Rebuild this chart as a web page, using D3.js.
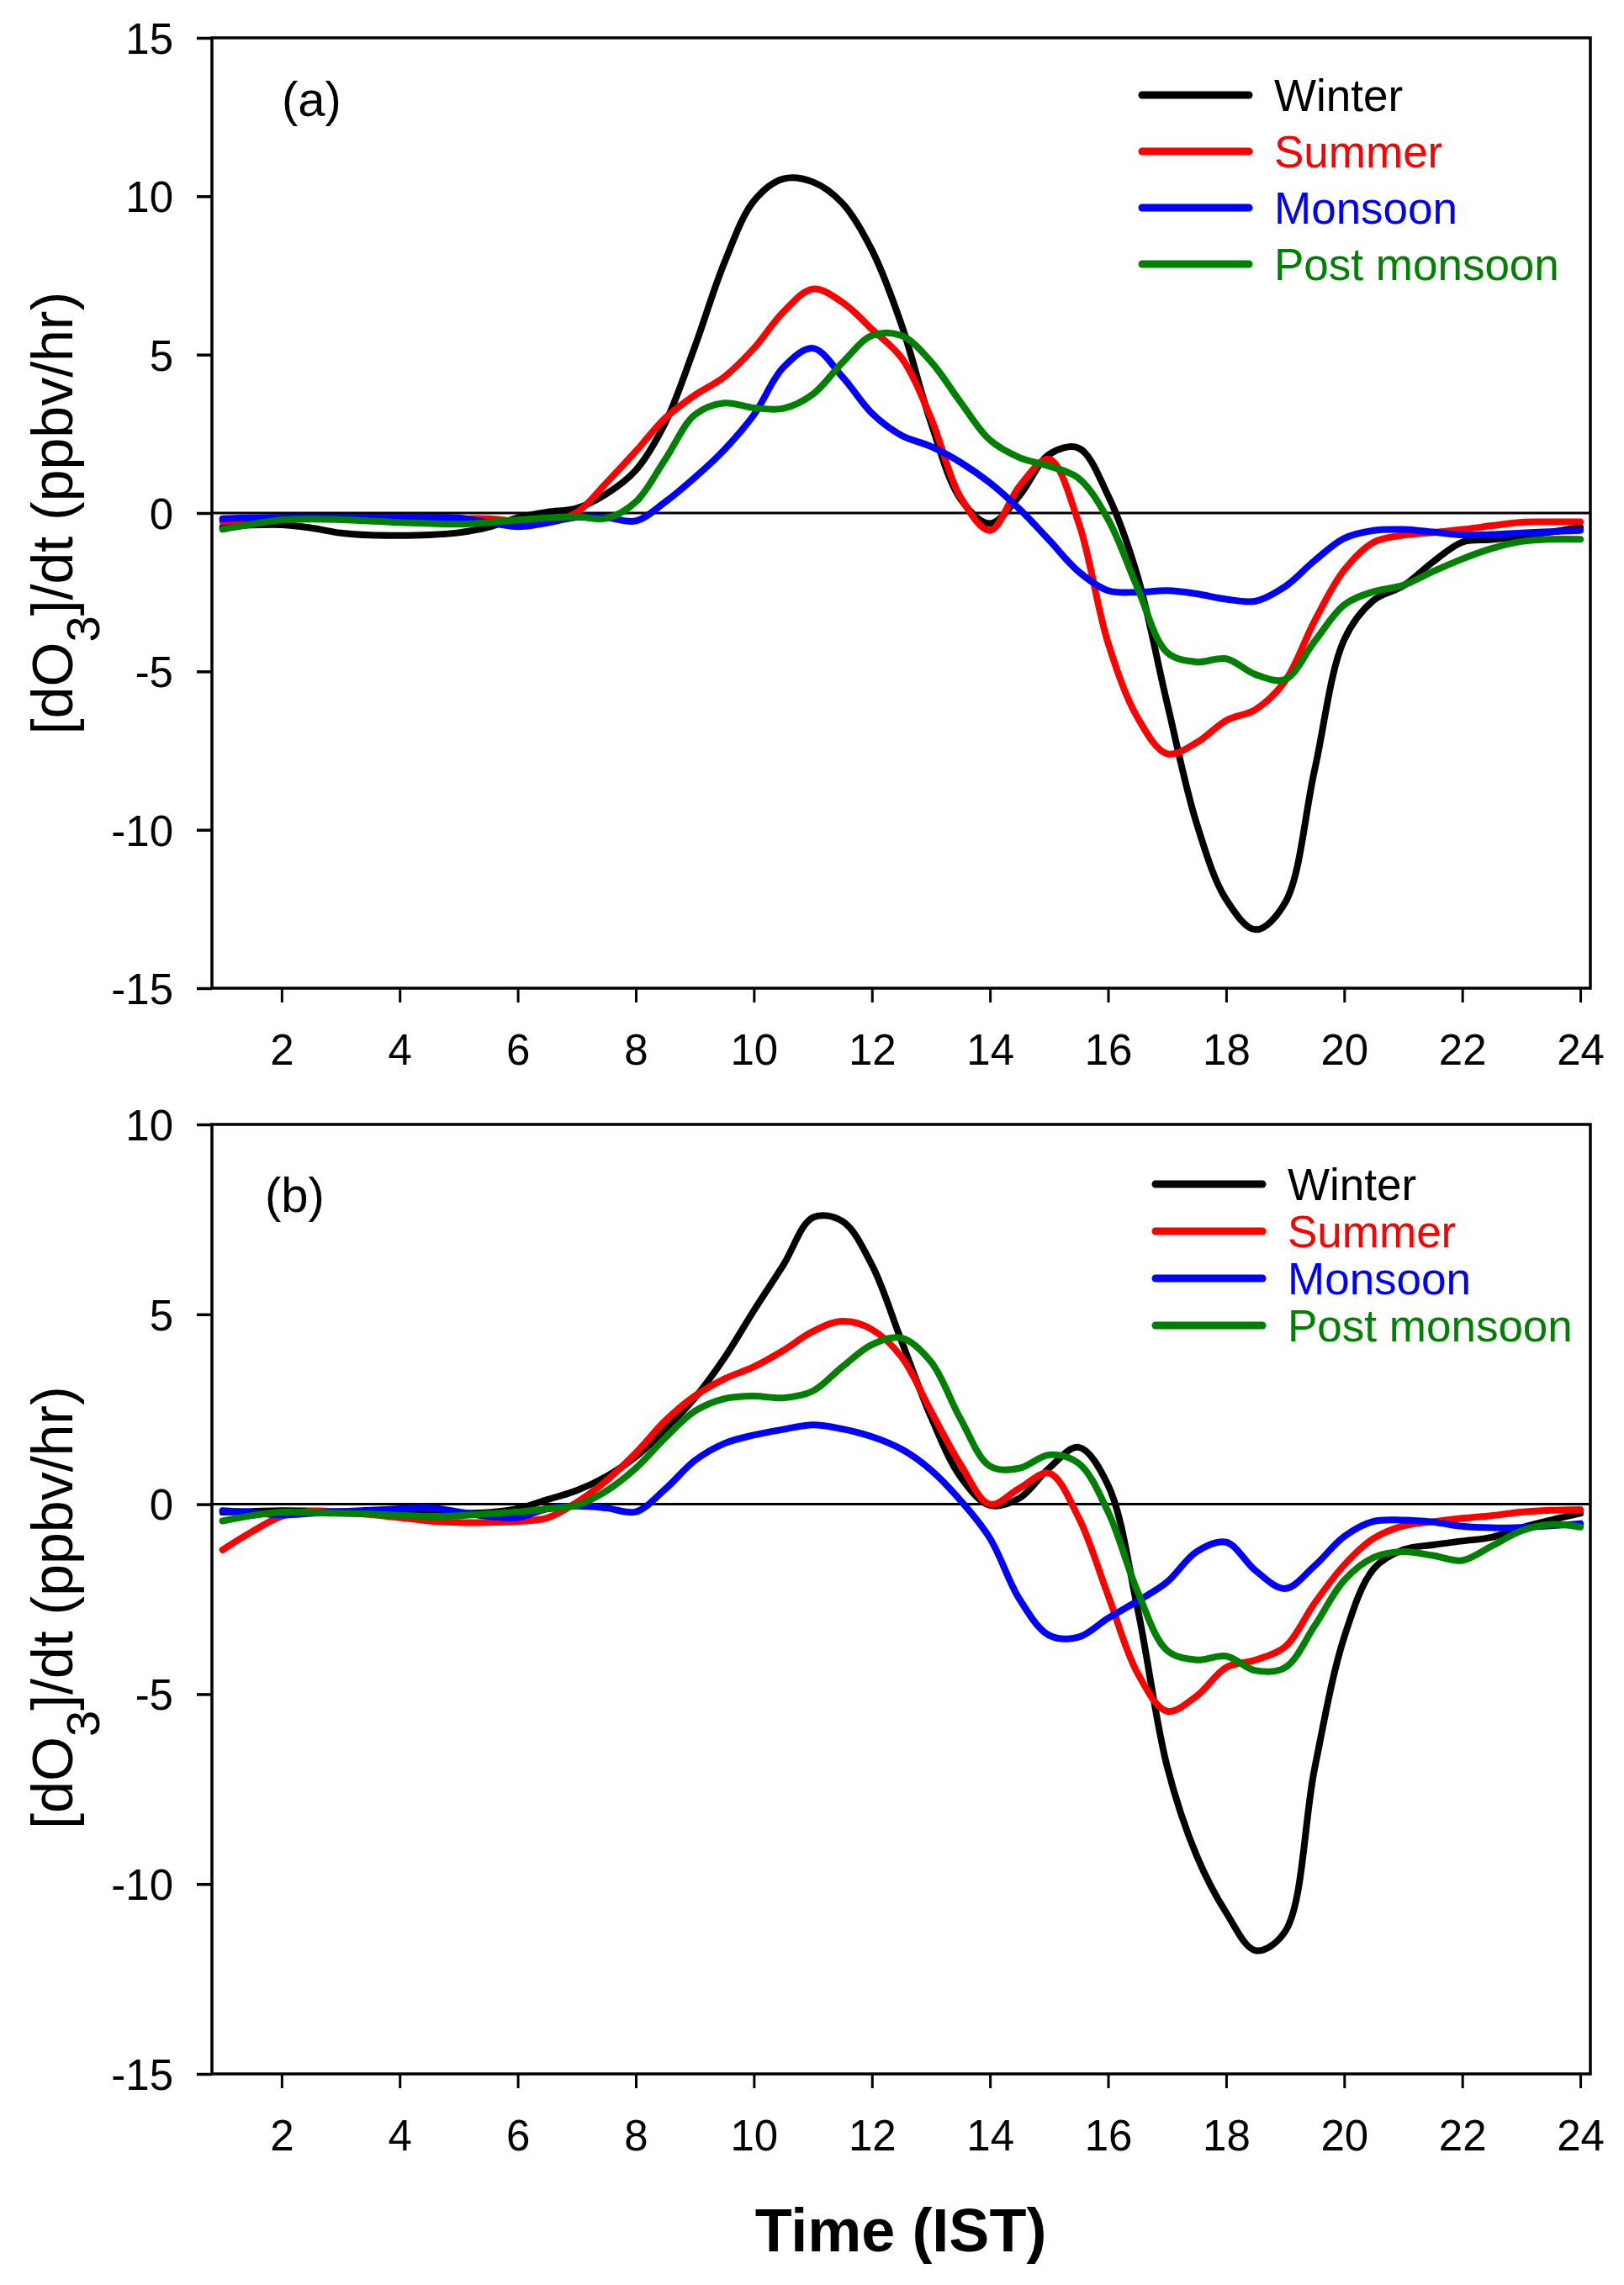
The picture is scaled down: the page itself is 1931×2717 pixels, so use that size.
<!DOCTYPE html>
<html>
<head>
<meta charset="utf-8">
<script src="https://cdn.jsdelivr.net/npm/d3@7"></script>
<style>
  body { margin: 0; background: #fff; }
  svg { display: block; font-family: "Liberation Sans", Arial, sans-serif; }
</style>
</head>
<body>
<div id="chart"></div>
<script>
/**********************/
/******* data         */
/**********************/

const hours = [1, 1.5, 2, 2.5, 3, 3.5, 4, 4.5, 5, 5.5, 6, 6.5, 7, 7.5, 8, 8.5, 9, 9.5, 10, 10.5,
    11, 11.5, 12, 12.5, 13, 13.5, 14, 14.5, 15, 15.5, 16, 16.5, 17, 17.5, 18, 18.5, 19, 19.5, 20, 20.5,
    21, 21.5, 22, 22.5, 23, 23.5, 24];

const seasons = ["Winter", "Summer", "Monsoon", "Post monsoon"];
const seasonColors = ["#000000", "#ff0000", "#0000ff", "#008000"];

const xTicks = [2, 4, 6, 8, 10, 12, 14, 16, 18, 20, 22, 24];
const yTicksA = [-15, -10, -5, 0, 5, 10, 15];
const yTicksB = [-15, -10, -5, 0, 5, 10];

// panel (a)
const winterA = [-0.45, -0.38, -0.37, -0.47, -0.63, -0.7, -0.71, -0.69, -0.62, -0.45,
    -0.15, 0.03, 0.15, 0.6, 1.35, 2.85, 5.25, 7.9, 9.85, 10.55,
    10.45, 9.78, 8.3, 5.95, 2.85, 0.45, -0.33, 0.55, 1.85, 2.05,
    0.55, -2.0, -6.0, -9.8, -12.2, -13.15, -12.3, -8.1, -4.0, -2.75,
    -2.3, -1.55, -0.92, -0.84, -0.72, -0.6, -0.45];
const summerA = [-0.27, -0.2, -0.18, -0.17, -0.17, -0.18, -0.18, -0.18, -0.18, -0.18,
    -0.27, -0.3, 0.02, 0.95, 1.95, 3.0, 3.72, 4.3, 5.2, 6.35,
    7.07, 6.65, 5.8, 4.9, 3.0, 0.5, -0.55, 0.85, 1.7, -0.3,
    -4.1, -6.46, -7.6, -7.25, -6.55, -6.2, -5.3, -3.4, -1.8, -0.92,
    -0.7, -0.62, -0.52, -0.4, -0.29, -0.28, -0.28];
const monsoonA = [-0.18, -0.15, -0.13, -0.13, -0.13, -0.13, -0.13, -0.13, -0.15, -0.3,
    -0.43, -0.31, -0.13, -0.14, -0.25, 0.35, 1.12, 2.0, 3.1, 4.6,
    5.2, 4.3, 3.15, 2.45, 2.1, 1.6, 0.95, 0.12, -0.85, -1.85,
    -2.45, -2.5, -2.45, -2.55, -2.72, -2.78, -2.32, -1.5, -0.8, -0.55,
    -0.52, -0.6, -0.69, -0.68, -0.63, -0.59, -0.55];
const postA = [-0.51, -0.35, -0.22, -0.19, -0.21, -0.25, -0.3, -0.33, -0.35, -0.3,
    -0.22, -0.15, -0.12, -0.17, 0.35, 1.7, 3.1, 3.47, 3.32, 3.3,
    3.75, 4.75, 5.6, 5.6, 4.78, 3.5, 2.3, 1.75, 1.48, 1.1,
    -0.2, -2.37, -4.4, -4.7, -4.6, -5.1, -5.25, -4.05, -2.9, -2.48,
    -2.28, -1.85, -1.45, -1.12, -0.9, -0.83, -0.83];

// panel (b)
const winterB = [-0.21, -0.19, -0.17, -0.18, -0.2, -0.22, -0.23, -0.24, -0.24, -0.22,
    -0.12, 0.12, 0.36, 0.73, 1.25, 1.97, 2.8, 3.85, 5.1, 6.3,
    7.55, 7.45, 6.3, 4.3, 2.3, 0.72, -0.03, 0.16, 0.95, 1.5,
    0.5, -2.75, -6.9, -9.25, -10.75, -11.75, -11.25, -6.95, -3.5, -1.7,
    -1.2, -1.07, -0.97, -0.87, -0.62, -0.42, -0.24];
const summerB = [-1.2, -0.72, -0.32, -0.18, -0.2, -0.27, -0.35, -0.44, -0.48, -0.48,
    -0.45, -0.36, 0.05, 0.62, 1.35, 2.2, 2.85, 3.3, 3.62, 4.05,
    4.55, 4.82, 4.6, 3.88, 2.45, 1.05, 0.0, 0.42, 0.82, -0.35,
    -2.4, -4.45, -5.45, -5.05, -4.3, -4.1, -3.75, -2.6, -1.6, -0.9,
    -0.57, -0.46, -0.37, -0.3, -0.21, -0.16, -0.14];
const monsoonB = [-0.17, -0.22, -0.28, -0.24, -0.19, -0.16, -0.12, -0.09, -0.2, -0.32,
    -0.35, -0.12, -0.05, -0.1, -0.2, 0.4, 1.15, 1.6, 1.82, 1.97,
    2.09, 1.98, 1.78, 1.45, 0.9, 0.1, -0.9, -2.5, -3.45, -3.5,
    -3.0, -2.55, -2.05, -1.25, -1.0, -1.75, -2.22, -1.62, -0.85, -0.45,
    -0.42, -0.47, -0.58, -0.62, -0.61, -0.57, -0.51];
const postB = [-0.44, -0.3, -0.21, -0.22, -0.24, -0.26, -0.29, -0.32, -0.3, -0.25,
    -0.2, -0.12, -0.03, 0.35, 0.95, 1.75, 2.45, 2.78, 2.85, 2.8,
    2.98, 3.62, 4.2, 4.38, 3.75, 2.25, 1.0, 0.95, 1.3, 1.08,
    -0.2, -2.3, -3.85, -4.1, -4.0, -4.38, -4.3, -3.2, -2.0, -1.4,
    -1.25, -1.35, -1.48, -1.1, -0.7, -0.53, -0.6];

/**********************/
/******* d3           */
/**********************/

const width = 1931;
const height = 2717;
const left = 252;
const right = 1891;

const svg = d3.select("#chart")
    .append("svg")
    .attr("width", width)
    .attr("height", height);

svg.append("rect")
    .attr("width", width)
    .attr("height", height)
    .attr("fill", "#fff");

const x = d3.scaleLinear()
    .domain([0.82, 24.17])
    .range([left, right]);

function drawPanel(p) {
    const y = d3.scaleLinear()
        .domain(p.domain)
        .range([p.bottom, p.top]);

    const g = svg.append("g").attr("class", "panel");

    // zero line
    g.append("line")
        .attr("x1", left)
        .attr("x2", right)
        .attr("y1", y(0))
        .attr("y2", y(0))
        .attr("stroke", "#000")
        .attr("stroke-width", 3);

    // curves
    const line = d3.line()
        .x((d, i) => x(hours[i]))
        .y(d => y(d))
        .curve(d3.curveCatmullRom.alpha(0.5));

    g.selectAll(".season")
        .data(p.series)
        .enter()
        .append("path")
        .attr("class", "season")
        .attr("fill", "none")
        .attr("stroke", (d, i) => seasonColors[i])
        .attr("stroke-width", 8)
        .attr("stroke-linecap", "round")
        .attr("stroke-linejoin", "round")
        .attr("d", line);

    // frame
    g.append("rect")
        .attr("x", left)
        .attr("y", p.top)
        .attr("width", right - left)
        .attr("height", p.bottom - p.top)
        .attr("fill", "none")
        .attr("stroke", "#000")
        .attr("stroke-width", 3.5);

    // y axis
    const yAxis = g.append("g")
        .attr("transform", `translate(${left}, 0)`)
        .call(d3.axisLeft(y).tickValues(p.yTicks).tickSize(18).tickPadding(28).tickFormat(d3.format("d")));
    yAxis.select(".domain").remove();
    yAxis.selectAll("line").attr("stroke-width", 3.5);
    yAxis.selectAll("text")
        .attr("font-size", 51)
        .attr("font-family", "Liberation Sans, Arial, sans-serif")
        .attr("dy", "0.36em")
        .text(d => d < 0 ? "-" + Math.abs(d) : d);

    // x axis
    const xAxis = g.append("g")
        .attr("transform", `translate(0, ${p.bottom})`)
        .call(d3.axisBottom(x).tickValues(xTicks).tickSize(17).tickPadding(38));
    xAxis.select(".domain").remove();
    xAxis.selectAll("line").attr("stroke-width", 3);
    xAxis.selectAll("text")
        .attr("font-size", 51)
        .attr("font-family", "Liberation Sans, Arial, sans-serif");

    // y label
    const yl = g.append("text")
        .attr("transform", `translate(86, ${(p.top + p.bottom) / 2 + p.labelShift}) rotate(-90)`)
        .attr("text-anchor", "middle")
        .attr("font-size", 68)
        .attr("fill", "#000");
    yl.append("tspan").text("[dO");
    yl.append("tspan").attr("baseline-shift", "sub").attr("font-size", 56).text("3");
    yl.append("tspan").text("]/dt (ppbv/hr)");

    // panel tag
    g.append("text")
        .attr("x", p.tagX)
        .attr("y", p.tagY)
        .attr("font-size", 58)
        .text(p.tag);

    // legend
    const lg = g.selectAll(".legend")
        .data(seasons)
        .enter()
        .append("g")
        .attr("class", "legend")
        .attr("transform", (d, i) => `translate(0, ${p.legendY + i * p.legendStep})`);

    lg.append("line")
        .attr("x1", p.legendX)
        .attr("x2", p.legendX + 127)
        .attr("stroke", (d, i) => seasonColors[i])
        .attr("stroke-width", 9)
        .attr("stroke-linecap", "round");

    lg.append("text")
        .attr("x", p.legendX + 157)
        .attr("y", 19)
        .attr("font-size", 53)
        .attr("fill", (d, i) => seasonColors[i])
        .text(d => d);
}

drawPanel({
    top: 45, bottom: 1175, domain: [-15, 15], yTicks: yTicksA,
    series: [winterA, summerA, monsoonA, postA],
    tag: "(a)", tagX: 335, tagY: 138,
    legendX: 1358, legendY: 113, legendStep: 67,
    labelShift: 0
});

drawPanel({
    top: 1337, bottom: 2466, domain: [-15, 10], yTicks: yTicksB,
    series: [winterB, summerB, monsoonB, postB],
    tag: "(b)", tagX: 315, tagY: 1441,
    legendX: 1374, legendY: 1408, legendStep: 56,
    labelShift: 10
});

// shared x title
svg.append("text")
    .attr("x", 1071)
    .attr("y", 2677)
    .attr("text-anchor", "middle")
    .attr("font-size", 72)
    .attr("font-weight", "bold")
    .text("Time (IST)");
</script>
</body>
</html>
